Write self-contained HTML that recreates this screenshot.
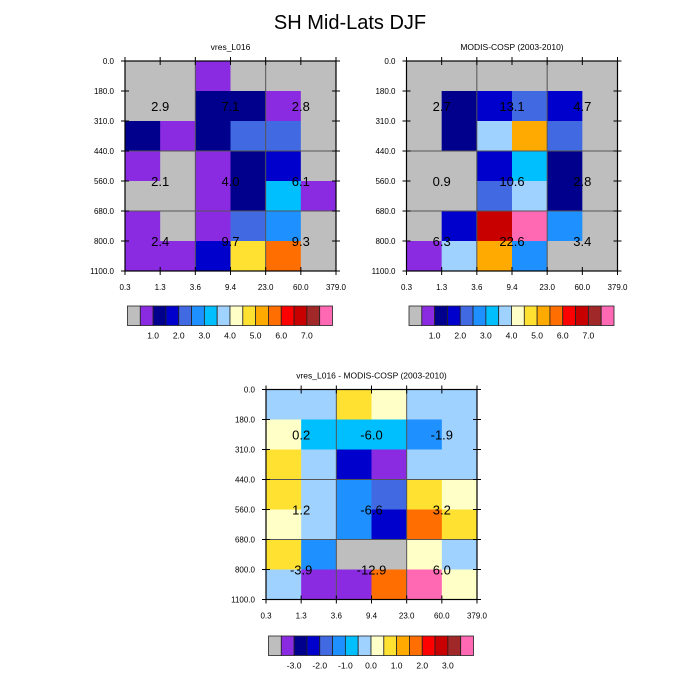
<!DOCTYPE html>
<html><head><meta charset="utf-8"><style>
body{margin:0;background:#fff;}
svg{display:block;font-family:"Liberation Sans",sans-serif;}
</style></head><body>
<svg id="chart" width="700" height="700" viewBox="0 0 700 700" xmlns="http://www.w3.org/2000/svg">
<rect width="700" height="700" fill="#fff"/>
<text x="350" y="29" font-size="20" text-anchor="middle">SH Mid-Lats DJF</text>
</svg>
<script>
const palette = ["#BEBEBE","#8A2BE2","#00008C","#0000CD","#4169E1","#1E90FF","#00BFFF","#A0D2FF","#FFFFC8","#FFE132","#FFAA00","#FF6E00","#FF0000","#C80000","#A02828","#FF69B4"];
const xTicks = ["0.3","1.3","3.6","9.4","23.0","60.0","379.0"];
const yTicks = ["0.0","180.0","310.0","440.0","560.0","680.0","800.0","1100.0"];
const grid1 = [[0,0,1,0,0,0],[0,0,2,2,1,0],[2,1,2,4,4,0],[1,0,1,2,3,0],[0,0,1,2,6,1],[1,0,1,4,5,0],[1,1,3,9,11,0]];
const grid2 = [[0,0,0,0,0,0],[0,2,3,4,3,0],[0,2,7,10,4,0],[0,0,3,6,2,0],[0,0,4,7,2,0],[0,3,13,15,5,0],[1,7,10,5,0,0]];
const grid3 = [[7,7,9,8,7,7],[8,6,6,6,5,7],[9,7,3,1,7,7],[9,7,5,4,9,8],[8,7,5,3,11,9],[9,5,0,0,8,7],[7,1,1,11,15,8]];
const vals1 = ["2.9","7.1","2.8","2.1","4.0","6.1","2.4","9.7","9.3"];
const vals2 = ["2.7","13.1","4.7","0.9","10.6","2.8","6.3","22.6","3.4"];
const vals3 = ["0.2","-6.0","-1.9","1.2","-6.6","3.2","-3.9","-12.9","6.0"];
const cbLabels1 = ["1.0","2.0","3.0","4.0","5.0","6.0","7.0"];
const cbLabels3 = ["-3.0","-2.0","-1.0","0.0","1.0","2.0","3.0"];

const svg = document.getElementById('chart');
const NS = "http://www.w3.org/2000/svg";
function mk(tag, attrs, parent){const e=document.createElementNS(NS,tag);for(const k in attrs)e.setAttribute(k,attrs[k]);(parent||svg).appendChild(e);return e;}

function panel(x0,y0,title,grid,vals,name){
  const W=211,H=210,nc=6,nr=7,cw=W/nc,ch=H/nr;
  const g=mk('g',{});
  
  
  const xs=c=>x0+c*cw, ys=r=>y0+r*ch;
  grid.forEach((row,r)=>row.forEach((v,c)=>{
    const rc=mk('rect',{x:xs(c),y:ys(r),width:cw+0.4,height:ch+0.4,fill:palette[v]},g);
    
    
  }));
  [2,4].forEach(c=>mk('line',{x1:xs(c),x2:xs(c),y1:y0,y2:y0+H,stroke:'#555','stroke-width':1},g));
  [3,5].forEach(r=>mk('line',{x1:x0,x2:x0+W,y1:ys(r),y2:ys(r),stroke:'#555','stroke-width':1},g));
  mk('rect',{x:x0,y:y0,width:W,height:H,fill:'none',stroke:'#000','stroke-width':1.2},g);
  yTicks.forEach((t,i)=>{
    const y=y0+i*H/(yTicks.length-1);
    mk('line',{x1:x0-4,x2:x0+4,y1:y,y2:y,stroke:'#000'},g);
    mk('line',{x1:x0+W-4,x2:x0+W+4,y1:y,y2:y,stroke:'#000'},g);
    const tx=mk('text',{x:x0-11,y:y+3,'font-size':8,'text-anchor':'end'},g);tx.textContent=t;
    
    
  });
  xTicks.forEach((t,i)=>{
    const x=x0+i*cw;
    mk('line',{x1:x,x2:x,y1:y0+H-4,y2:y0+H+4,stroke:'#000'},g);
    mk('line',{x1:x,x2:x,y1:y0-4,y2:y0+4,stroke:'#000'},g);
    const tx=mk('text',{x:x,y:y0+H+19,'font-size':8,'text-anchor':'middle'},g);tx.textContent=t;
    
    
  });
  const ty=mk('text',{x:x0+W/2,y:y0-11,'font-size':8.5,'text-anchor':'middle'},g);ty.textContent=title;
  
  
  const lys=[ys(1.5),ys(4),ys(6)];
  vals.forEach((v,i)=>{
    const t=mk('text',{x:xs(1+2*(i%3)),y:lys[Math.floor(i/3)]+5,'font-size':13,'text-anchor':'middle'},g);t.textContent=v;
    
    
  });
}
function colorbar(x0,y0,labels,name){
  const W=205,H=19.5,bw=W/16;
  const g=mk('g',{});
  
  
  palette.forEach((c,i)=>mk('rect',{x:x0+i*bw,y:y0,width:bw,height:H,fill:c,stroke:'#222','stroke-width':0.8},g));
  labels.forEach((l,i)=>{
    const t=mk('text',{x:x0+(2+2*i)*bw,y:y0+H+13,'font-size':8.5,'text-anchor':'middle'},g);t.textContent=l;
    
    
  });
}
panel(125,61,"vres_L016",grid1,vals1,"panel-model");
panel(406.5,61,"MODIS-COSP (2003-2010)",grid2,vals2,"panel-obs");
panel(266,389.5,"vres_L016 - MODIS-COSP (2003-2010)",grid3,vals3,"panel-diff");
colorbar(127.5,306,cbLabels1,"colorbar-model");
colorbar(409,306,cbLabels1,"colorbar-obs");
colorbar(268.5,636,cbLabels3,"colorbar-diff");
</script>
</body></html>
